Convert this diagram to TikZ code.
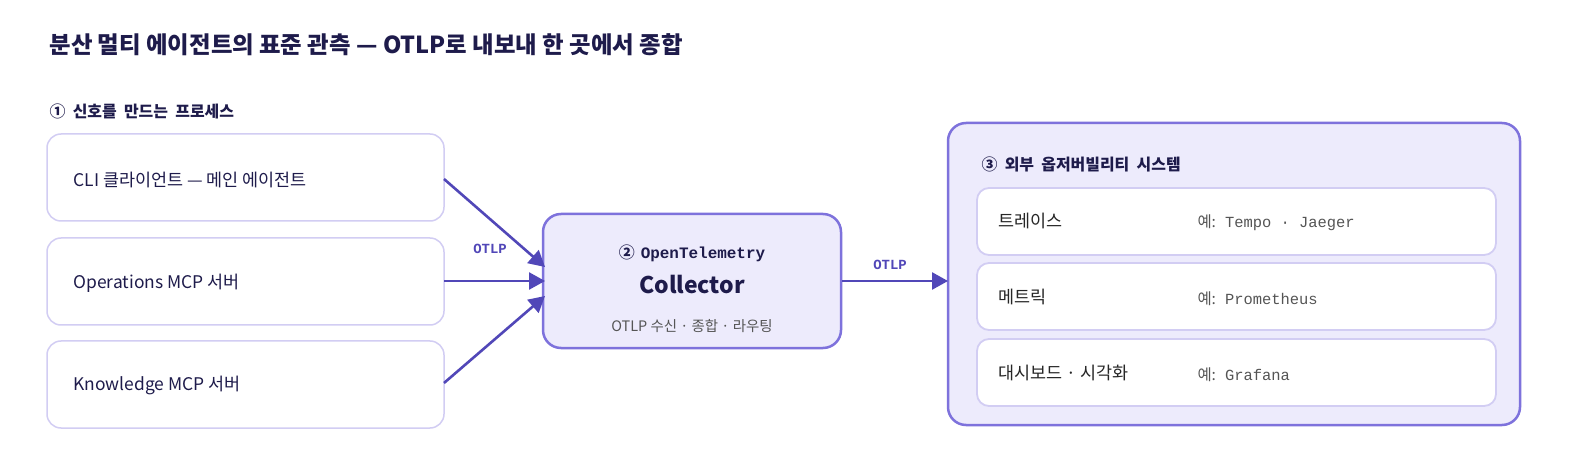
\documentclass[tikz,border=0pt]{standalone}
\usepackage{fontspec}
\setmainfont{Noto Sans CJK KR}
\newfontfamily\monof{Liberation Mono}
\usetikzlibrary{arrows.meta}
\definecolor{ink}{HTML}{1E1B4B}
\definecolor{arrowc}{HTML}{5147B8}
\definecolor{panelfill}{HTML}{EDEBFC}
\definecolor{panelborder}{HTML}{7E72DC}
\definecolor{lightborder}{HTML}{D2CDF3}
\definecolor{graytxt}{HTML}{555555}
\begin{document}
\begin{tikzpicture}[x=1bp,y=-1bp,
  src/.style={draw=lightborder,line width=1.5bp,fill=white,rounded corners=14bp},
  panel/.style={draw=panelborder,line width=2.5bp,fill=panelfill,rounded corners=18bp},
  inner/.style={draw=lightborder,line width=1.8bp,fill=white,rounded corners=12bp},
  lbl/.style={anchor=west,text=ink,font=\fontsize{17.5}{20}\selectfont},
  ex/.style={anchor=west,text=graytxt,font=\fontsize{15.5}{18}\selectfont},
  arr/.style={draw=arrowc,line width=2.6bp,-{Triangle[length=16bp,width=17bp]}},
  otlp/.style={text=arrowc,font=\monof\bfseries\fontsize{14}{16}\selectfont}]
\useasboundingbox (0,0) rectangle (1580,464);
\fill[white] (0,0) rectangle (1580,464);
\node[anchor=west,text=ink,font=\bfseries\fontsize{23.5}{27}\selectfont] (title) at (46,45) {분산 멀티 에이전트의 표준 관측 — OTLP로 내보내 한 곳에서 종합};
\node[anchor=west,text=ink,font=\bfseries\fontsize{16}{19}\selectfont] (sec1) at (46,111) {①\ \ 신호를\ \ 만드는\ \ 프로세스};
\draw[src] (47,134) rectangle (444,221);
\draw[src] (47,238) rectangle (444,325);
\draw[src] (47,341) rectangle (444,428);
\node[lbl] (cli) at (70,180) {CLI 클라이언트 — 메인 에이전트};
\node[lbl] (ops) at (70,283) {Operations MCP 서버};
\node[lbl] (kno) at (70,385) {Knowledge MCP 서버};
\coordinate (s1) at (444,179);
\coordinate (s2) at (444,281);
\coordinate (s3) at (444,383);
\node[panel,minimum width=298bp,minimum height=134bp] (col) at (692,281) {};
\node[text=ink,font=\bfseries\fontsize{16}{19}\selectfont] (colt) at (692,253) {②\hspace{6bp}{\monof\bfseries OpenTelemetry}};
\node[text=ink,font=\bfseries\fontsize{23}{27}\selectfont] (colc) at (692,285) {Collector};
\node[text=graytxt,font=\fontsize{14.5}{17}\selectfont] (cols) at (692,326) {OTLP 수신 · 종합 · 라우팅};
\coordinate (c1) at (545,267);
\coordinate (c2) at (545,281);
\coordinate (c3) at (545,296);
\draw[arr] (s1) -- (c1);
\draw[arr] (s2) -- (c2);
\draw[arr] (s3) -- (c3);
\node[otlp] (o1) at (490,249) {OTLP};
\draw[panel] (948,123) rectangle (1520,425);
\coordinate (pin) at (948,281);
\draw[arr] (col.east) -- (pin);
\node[otlp] (o2) at (890,265) {OTLP};
\node[anchor=west,text=ink,font=\bfseries\fontsize{16}{19}\selectfont] (sec3) at (978,164) {③\ \ 외부\ \ 옵저버빌리티\ \ 시스템};
\draw[inner] (977,188) rectangle (1496,255);
\draw[inner] (977,263) rectangle (1496,330);
\draw[inner] (977,339) rectangle (1496,406);
\node[lbl,text=black!85] (t1) at (995,221) {트레이스};
\node[lbl,text=black!85] (t2) at (995,297) {메트릭};
\node[lbl,text=black!85] (t3) at (995,373) {대시보드 · 시각화};
\node[ex] (e1) at (1194,223) {예:\hspace{9bp}{\monof Tempo · Jaeger}};
\node[ex] (e2) at (1194,299) {예:\hspace{9bp}{\monof Prometheus}};
\node[ex] (e3) at (1194,375) {예:\hspace{9bp}{\monof Grafana}};
\end{tikzpicture}
\end{document}
